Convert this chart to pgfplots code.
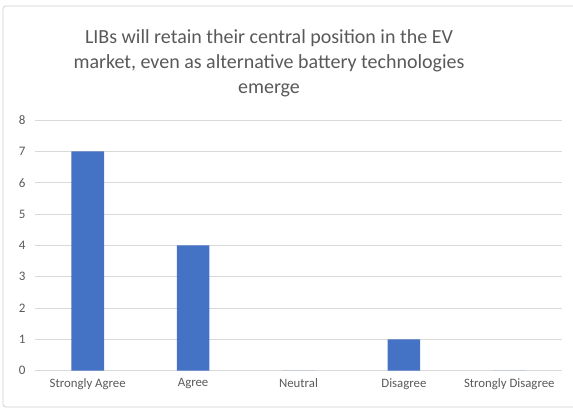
\documentclass[border=0pt]{standalone}
\usepackage{pgfplots}
\pgfplotsset{compat=1.18}
\usepackage{fontspec}
\setmainfont{Carlito}
\definecolor{barblue}{HTML}{4472C4}
\definecolor{txtgray}{HTML}{595959}
\definecolor{gridgray}{HTML}{D9D9D9}
\definecolor{framegray}{HTML}{D0D0D0}
\begin{document}
\begin{tikzpicture}
% page extent and chart frame
\path (0,0) rectangle (573bp,410bp);
\begin{scope}
\clip (0,0) rectangle (573bp,410bp);
\draw[framegray, line width=0.8bp, rounded corners=3bp] (3bp,3bp) rectangle (590bp,404bp);
\end{scope}
% title
\node[text=txtgray, font=\fontsize{20bp}{25bp}\selectfont, align=center, anchor=center]
  at (269bp,347bp) {LIBs will retain their central position in the EV\\market, even as alternative battery technologies\\emerge};
\begin{axis}[
  at={(35bp,39.3bp)}, anchor=south west,
  scale only axis,
  width=527bp, height=250.7bp,
  xmin=-0.5, xmax=4.5,
  ymin=0, ymax=8,
  ytick={0,1,...,8},
  xtick={0,1,2,3,4},
  xticklabels={Strongly Agree, Agree, Neutral, Disagree, Strongly Disagree},
  ybar, bar width=0.31,
  axis line style={draw=none},
  major tick length=0pt,
  ymajorgrids, grid style={gridgray, line width=0.8bp},
  tick label style={text=txtgray},
  xticklabel style={font=\fontsize{12.8bp}{14bp}\selectfont, yshift=-4bp},
  yticklabel style={font=\fontsize{13bp}{14bp}\selectfont, xshift=-6bp},
  /pgf/number format/assume math mode=true,
]
\addplot[fill=barblue, draw=none] coordinates {(0,7) (1,4) (2,0) (3,1) (4,0)};
\end{axis}
\end{tikzpicture}
\end{document}
